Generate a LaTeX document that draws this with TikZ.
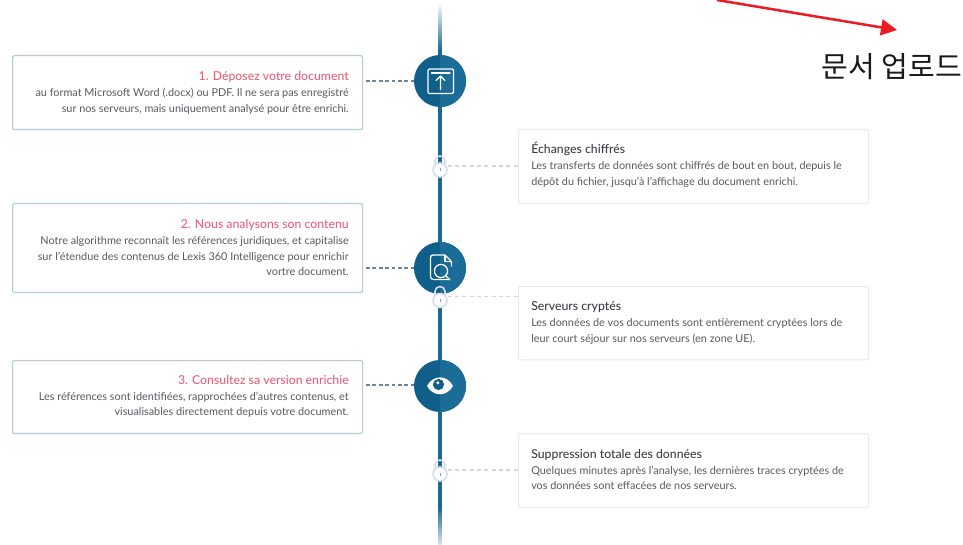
\documentclass[tikz,border=0pt]{standalone}
\usepackage{fontspec}
\setmainfont{Lato}
\newfontfamily\titlefont{Lato Medium}
\newfontfamily\krfont{Noto Sans CJK KR}
\usetikzlibrary{arrows.meta,positioning}
\definecolor{pinkt}{HTML}{EA6079}
\definecolor{bodyt}{HTML}{5A5A60}
\definecolor{headt}{HTML}{3E3E44}
\definecolor{blueb}{HTML}{B4CBDA}
\definecolor{greyb}{HTML}{E9E9EE}
\definecolor{disc}{HTML}{0F5F8A}
\definecolor{discr}{HTML}{1B6C97}
\definecolor{spine}{HTML}{1B6A92}
\definecolor{lockc}{HTML}{D6DCE9}
\definecolor{dashd}{HTML}{6A8698}
\definecolor{dashl}{HTML}{D4D6DE}
\definecolor{redar}{HTML}{ED1C24}
\tikzset{
  x=0.75pt,y=-0.75pt,
  leftbox/.style={draw=blueb,line width=0.9pt,rounded corners=1.5pt,fill=white,anchor=north west,inner sep=0pt},
  rightbox/.style={draw=greyb,line width=0.8pt,rounded corners=1.5pt,fill=white,anchor=north west,inner sep=0pt},
  titleL/.style={anchor=base east,inner sep=0pt,text=pinkt,font=\titlefont\fontsize{9.2pt}{10pt}\selectfont},
  bodyL/.style={anchor=north east,inner sep=0pt,align=right,text=bodyt,font=\fontsize{8.15pt}{11.8pt}\selectfont},
  titleR/.style={anchor=base west,inner sep=0pt,text=headt,font=\titlefont\fontsize{9.2pt}{10pt}\selectfont},
  bodyR/.style={anchor=north west,inner sep=0pt,align=left,text=bodyt,font=\fontsize{8.15pt}{11.9pt}\selectfont},
  disc/.style={circle,minimum size=39pt,inner sep=0pt,fill=disc},
  lockn/.style={circle,minimum size=10.5pt,inner sep=0pt,draw=lockc,line width=1.2pt,fill=white},
  dashdark/.style={draw=dashd,line width=1.2pt,dash pattern=on 2.9pt off 1.9pt},
  dashlight/.style={draw=dashl,line width=0.9pt,dash pattern=on 3pt off 2.5pt},
  iconl/.style={draw=white,line width=0.95pt,line cap=round,line join=round},
}
\begin{document}
\begin{tikzpicture}
\useasboundingbox (0,0) rectangle (963,545);
\clip (0,0) rectangle (963,545);
\fill[white] (0,0) rectangle (963,545);
% spine
\shade[top color=white,bottom color=spine] (438.2,3) rectangle (441.8,50);
\fill[spine] (438.2,50) rectangle (441.8,508);
\shade[top color=spine,bottom color=spine!15] (438.2,508) rectangle (441.8,545);
% boxes
\node[leftbox,minimum width=262.5pt,minimum height=55.5pt] (b1) at (12,55) {};
\node[leftbox,minimum width=262.5pt,minimum height=66.7pt] (b2) at (12,203) {};
\node[leftbox,minimum width=262.5pt,minimum height=54.7pt] (b3) at (12,360) {};
\node[rightbox,minimum width=262.5pt,minimum height=55.5pt] (r1) at (518,129) {};
\node[rightbox,minimum width=262.5pt,minimum height=55pt] (r2) at (518,286) {};
\node[rightbox,minimum width=262.5pt,minimum height=55.5pt] (r3) at (518,433) {};
% discs
\node[disc] (c1) at (440,81) {};
\node[disc] (c2) at (440,268) {};
\node[disc] (c3) at (440,386) {};
\foreach \n in {c1,c2,c3}{
  \begin{scope}
    \clip (\n.north) rectangle (\n.south -| \n.east);
    \fill[discr] (\n) circle (19.5pt);
  \end{scope}
}
% locks
\foreach \lx/\nm in {170/l1,300.5/l2,474/l3}{
  \draw[lockc,line width=1.2pt] (435,\lx-6) -- ++(0,-3) arc[start angle=180,end angle=360,radius=5] -- ++(0,3);
  \node[lockn] (\nm) at (440,\lx) {};
  \fill[lockc!70!black] (439.6,\lx-1.5) rectangle (440.4,\lx+1.5);
}
% connectors
\coordinate (j1) at (366,81);
\coordinate (j2) at (366,268);
\coordinate (j3) at (366,385);
\draw[dashdark] (j1) -- (c1.west |- j1);
\draw[dashdark] (j2) -- (c2.west |- j2);
\draw[dashdark] (j3) -- (c3.west |- j3);
\draw[dashlight] (l1.east |- 0,166) -- (r1.west |- 0,166);
\draw[dashlight] (l2.east |- 0,296.5) -- (r2.west |- 0,296.5);
\draw[dashlight] (l3.east |- 0,470) -- (r3.west |- 0,470);
% left text
\node[titleL] (t1) at (349,80.5) {1. Déposez votre document};
\node[bodyL] (d1) at (349,88) {au format Microsoft Word (.docx) ou PDF. Il ne sera pas enregistré\\sur nos serveurs, mais uniquement analysé pour être enrichi.};
\node[titleL] (t2) at (349,228.5) {2. Nous analysons son contenu};
\node[bodyL] (d2) at (349,236) {Notre algorithme reconnaît les références juridiques, et capitalise\\sur l’étendue des contenus de Lexis 360 Intelligence pour enrichir\\vortre document.};
\node[titleL] (t3) at (349,384.5) {3. Consultez sa version enrichie};
\node[bodyL] (d3) at (349,391.5) {Les références sont identifiées, rapprochées d’autres contenus, et\\visualisables directement depuis votre document.};
% right text
\node[titleR] (t4) at (531,154) {Échanges chiffrés};
\node[bodyR] (d4) at (531,161.5) {Les transferts de données sont chiffrés de bout en bout, depuis le\\dépôt du fichier, jusqu’à l’affichage du document enrichi.};
\node[titleR] (t5) at (531,310.5) {Serveurs cryptés};
\node[bodyR] (d5) at (531,318) {Les données de vos documents sont entièrement cryptées lors de\\leur court séjour sur nos serveurs (en zone UE).};
\node[titleR] (t6) at (531,458) {Suppression totale des données};
\node[bodyR] (d6) at (531,465.5) {Quelques minutes après l’analyse, les dernières traces cryptées de\\vos données sont effacées de nos serveurs.};
% upload icon
\draw[iconl,rounded corners=1pt] (428,69) rectangle (453.5,93.5);
\draw[iconl] (431.5,73) -- (450,73);
\draw[iconl] (440.5,89.5) -- (440.5,76) (436,80.5) -- (440.5,76) -- (445,80.5);
% document icon
\draw[iconl,rounded corners=1pt] (449,279.5) -- (432,279.5) -- (430.5,278) -- (430.5,256) -- (432,255) -- (445,255) -- (451.5,261.5) -- (451.5,266);
\draw[iconl] (445,255) -- (445,261.5) -- (451.5,261.5);
\draw[iconl] (441,271) circle[radius=6.6];
\draw[iconl] (446,276) -- (450,280);
% eye icon
\fill[white] (427,386) .. controls (433,374.5) and (447,374.5) .. (453,386) .. controls (447,397) and (433,397) .. (427,386) -- cycle;
\fill[disc] (438.5,384.5) circle[radius=5.6];
\fill[white] (437.8,382.8) circle[radius=1.7];
% annotation
\coordinate (a0) at (717,0);
\coordinate (a1) at (897,30);
\draw[redar,line width=1.9pt,-{Stealth[length=12pt,width=12pt,inset=0pt]}] (a0) -- (a1);
\node[font=\krfont\fontsize{21.8pt}{26pt}\selectfont,text=black!90,inner sep=0pt,anchor=center] (kr) at (892,67) {문서 업로드};
\end{tikzpicture}
\end{document}
